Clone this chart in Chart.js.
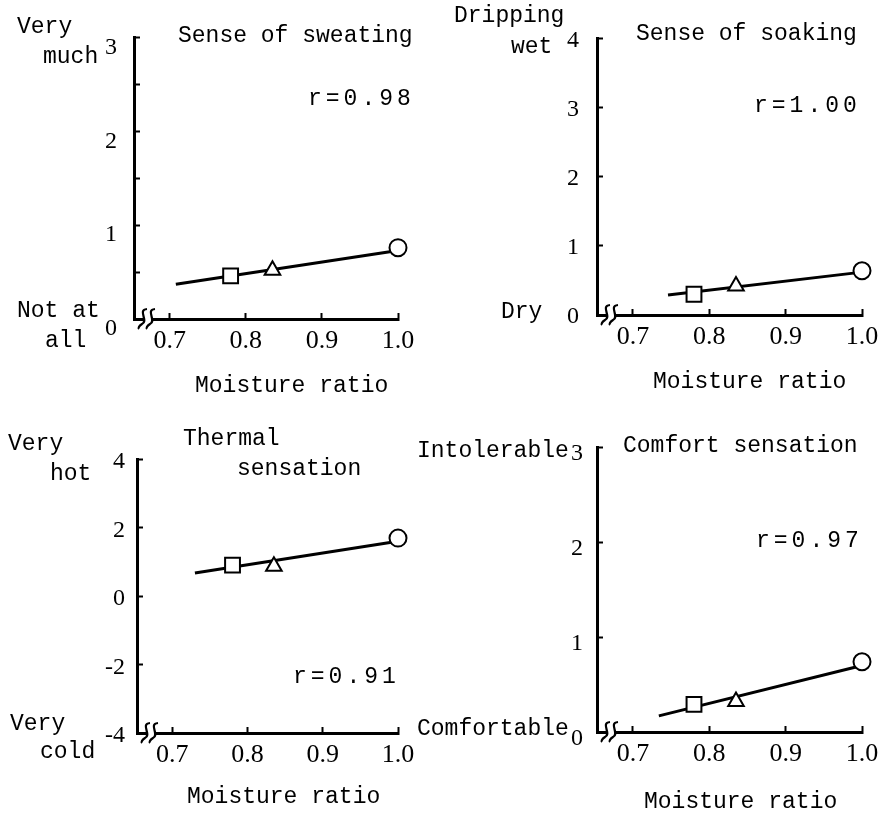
<!DOCTYPE html>
<html>
<head>
<meta charset="utf-8">
<script src="https://cdn.jsdelivr.net/npm/chart.js@4"></script>
<style>
  html, body { margin: 0; padding: 0; background: #fff; }
  body { width: 883px; height: 813px; position: relative; overflow: hidden; }
  canvas { position: absolute; }
</style>
</head>
<body>
<canvas id="c1"></canvas>
<canvas id="c2"></canvas>
<canvas id="c3"></canvas>
<canvas id="c4"></canvas>
<script>
// markers: square, triangle, circle
const moistureRatio = [0.78, 0.835, 1.0];
const markerStyles = ["rect", "triangle", "circle"];
const markerSizes = [10.5, 9, 8.5];
const xTicks = [0.7, 0.8, 0.9, 1.0];

const sweating = [0.46, 0.52, 0.76];
const soaking = [0.30, 0.42, 0.64];
const thermal = [0.90, 0.87, 1.69];
const comfort = [0.29, 0.32, 0.74];

// regression line end points
const sweatingFitX = [0.708, 1.0], sweatingFitY = [0.37, 0.73];
const soakingFitX = [0.746, 1.0], soakingFitY = [0.29, 0.62];
const thermalFitX = [0.73, 1.0], thermalFitY = [0.67, 1.60];
const comfortFitX = [0.734, 1.0], comfortFitY = [0.17, 0.70];

const MONO = "'Liberation Mono', monospace";
const SERIF = "'Liberation Serif', serif";
Chart.defaults.color = "#000";

const panels = [
  {
    id: "c1", left: 0, top: 0, w: 441, h: 406,
    area: { l: 134, t: 35, r: 398, b: 319 },
    y: sweating, fitX: sweatingFitX, fitY: sweatingFitY,
    yMin: 0, yMax: 3, yStep: 0.5, labelOffset: 10, yPad: 23,
    notes: [
      ["Very", 17, 33], ["much", 43, 63], ["Not at", 17, 317], ["all", 45, 347],
      ["Sense of sweating", 178, 42], ["r=0.98", 308, 105, 4], ["Moisture ratio", 195, 392]
    ]
  },
  {
    id: "c2", left: 441, top: 0, w: 442, h: 406,
    area: { l: 597, t: 35, r: 862, b: 315 },
    y: soaking, fitX: soakingFitX, fitY: soakingFitY,
    yMin: 0, yMax: 4, yStep: 1, labelOffset: 2, yPad: 24,
    notes: [
      ["Dripping", 454, 22], ["wet", 511, 53], ["Dry", 501, 318],
      ["Sense of soaking", 636, 40], ["r=1.00", 754, 112, 4], ["Moisture ratio", 653, 388]
    ]
  },
  {
    id: "c3", left: 0, top: 406, w: 441, h: 407,
    area: { l: 137, t: 459, r: 398, b: 733 },
    y: thermal, fitX: thermalFitX, fitY: thermalFitY,
    yMin: -4, yMax: 4, yStep: 2, labelOffset: 3, yPad: 18,
    notes: [
      ["Very", 8, 450], ["hot", 50, 480], ["Very", 10, 730], ["cold", 40, 758],
      ["Thermal", 183, 445], ["sensation", 237, 475], ["r=0.91", 293, 683, 4],
      ["Moisture ratio", 187, 803]
    ]
  },
  {
    id: "c4", left: 380, top: 406, w: 503, h: 407,
    area: { l: 597, t: 447, r: 862, b: 732 },
    y: comfort, fitX: comfortFitX, fitY: comfortFitY,
    yMin: 0, yMax: 3, yStep: 1, labelOffset: 7, yPad: 20,
    notes: [
      ["Intolerable", 417, 457], ["Comfortable", 417, 735],
      ["Comfort sensation", 623, 452], ["r=0.97", 756, 547, 4], ["Moisture ratio", 644, 808]
    ]
  }
];

// free text around each panel + the axis break mark
const notesPlugin = {
  id: "notes",
  afterDraw(chart) {
    const p = chart.options.plugins.notes;
    const ctx = chart.ctx;
    ctx.save();
    ctx.fillStyle = "#000";
    ctx.font = "23px " + MONO;
    ctx.textBaseline = "alphabetic";
    p.notes.forEach(n => {
      ctx.letterSpacing = (n[3] || 0) + "px";
      ctx.fillText(n[0], n[1] - p.left, n[2] - p.top);
    });
    ctx.letterSpacing = "0px";

    // axis break "ss"
    const a = chart.chartArea;
    const yb = a.bottom;
    ctx.fillStyle = "#fff";
    ctx.fillRect(a.left + 9, yb - 3, 10, 6);
    ctx.strokeStyle = "#000";
    ctx.lineWidth = 2.2;
    [a.left + 9, a.left + 17].forEach(cx => {
      ctx.beginPath();
      ctx.moveTo(cx + 4, yb - 10);
      ctx.bezierCurveTo(cx - 6, yb - 9, cx + 6, yb + 2, cx - 1, yb + 5);
      ctx.bezierCurveTo(cx - 4, yb + 7, cx - 5, yb + 9, cx - 4, yb + 10);
      ctx.stroke();
    });
    ctx.restore();
  }
};

panels.forEach(p => {
  const canvas = document.getElementById(p.id);
  canvas.width = p.w;
  canvas.height = p.h;
  canvas.style.left = p.left + "px";
  canvas.style.top = p.top + "px";

  const markers = moistureRatio.map((x, i) => ({ x: x, y: p.y[i] }));
  const fit = p.fitX.map((x, i) => ({ x: x, y: p.fitY[i] }));

  new Chart(canvas, {
    type: "scatter",
    data: {
      datasets: [
        {
          data: markers,
          pointStyle: markerStyles,
          pointRadius: markerSizes,
          backgroundColor: "#fff",
          borderColor: "#000",
          borderWidth: 2,
          clip: false
        },
        {
          type: "line",
          data: fit,
          borderColor: "#000",
          borderWidth: 3,
          pointRadius: 0,
          clip: false
        }
      ]
    },
    options: {
      responsive: false,
      animation: false,
      events: [],
      layout: {
        padding: {
          left: 0,
          top: p.area.t - p.top,
          right: p.left + p.w - p.area.r,
          bottom: 0
        }
      },
      plugins: {
        legend: { display: false },
        tooltip: { enabled: false },
        notes: { notes: p.notes, left: p.left, top: p.top }
      },
      scales: {
        x: {
          type: "linear",
          min: 0.653,
          max: 1.0,
          afterBuildTicks: s => { s.ticks = xTicks.map(v => ({ value: v })); },
          afterFit: s => {
            s.height = p.top + p.h - p.area.b;
            s.paddingLeft = 0;
            s.paddingRight = 0;
          },
          ticks: {
            font: { family: SERIF, size: 26 },
            padding: 13,
            maxRotation: 0,
            callback: v => v.toFixed(1)
          },
          grid: { drawOnChartArea: false, tickLength: -6, tickWidth: 2, color: "#000" },
          border: { color: "#000", width: 3 }
        },
        y: {
          min: p.yMin,
          max: p.yMax,
          afterFit: s => { s.width = p.area.l - p.left; },
          ticks: {
            stepSize: p.yStep,
            font: { family: SERIF, size: 24 },
            padding: p.yPad,
            labelOffset: p.labelOffset,
            callback: v => Number.isInteger(v) ? String(v) : ""
          },
          grid: { drawOnChartArea: false, tickLength: -6, tickWidth: 2, color: "#000" },
          border: { color: "#000", width: 3 }
        }
      }
    },
    plugins: [notesPlugin]
  });
});
</script>
</body>
</html>
